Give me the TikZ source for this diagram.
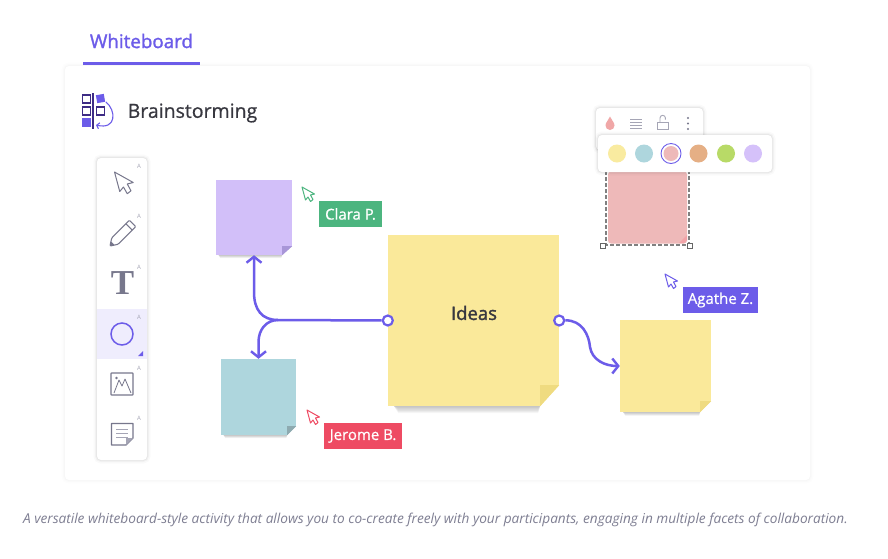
\documentclass[tikz,border=0pt]{standalone}
\usepackage{fontspec}
\setmainfont{Open Sans}
\newfontfamily\serifbold{Liberation Serif}
\newfontfamily\semifont[FakeBold=1.6]{Open Sans}
\newfontfamily\medfont[FakeBold=0.7]{Open Sans}
\usetikzlibrary{positioning,arrows.meta,calc}
\definecolor{violet}{HTML}{6C5CE9}
\definecolor{deepviolet}{HTML}{3E2C85}
\definecolor{icongray}{HTML}{77778C}
\definecolor{hintgray}{HTML}{A5A5B5}
\definecolor{captiongray}{HTML}{7E7E92}
\definecolor{inkgray}{HTML}{37373F}
\definecolor{noteyellow}{HTML}{FAE99A}
\definecolor{notelilac}{HTML}{D2BFF9}
\definecolor{noteblue}{HTML}{AED6DD}
\definecolor{notepink}{HTML}{EEB9B9}
\definecolor{foldyellow}{HTML}{EFDB80}
\definecolor{foldlilac}{HTML}{A896D8}
\definecolor{foldblue}{HTML}{8EAAB0}
\definecolor{foldpink}{HTML}{F2A3A8}
\definecolor{swyellow}{HTML}{F9EBA0}
\definecolor{sworange}{HTML}{E5AF85}
\definecolor{swgreen}{HTML}{B8DA67}
\definecolor{swlilac}{HTML}{D5C1FA}
\definecolor{tagred}{HTML}{EE4B63}
\definecolor{taggreen}{HTML}{4CB57F}
\newcommand{\fold}[4]{%
  \fill[white] ($(#1.south east)+(0,-#2)$) -- (#1.south east) -- ($(#1.south east)+(-#3,0)$) -- cycle;
  \fill[#4] ($(#1.south east)+(0,-#2)$) -- ($(#1.south east)+(-#3,-#2)$) -- ($(#1.south east)+(-#3,0)$) -- cycle;
  \foreach \d in {.17,.33,.5,.67,.83,1} {
    \fill[black,opacity=.04] ($(#1.south west)+(#2*.3,0)$) -- ($(#1.south west)+(#2*.3+#2*.2,#2*.33*\d)$)
      -- ($(#1.south east)+(-#3-#2*.1,#2*.33*\d)$) -- ($(#1.south east)+(-#3,0)$) -- cycle;
  }
}
\tikzset{
  sticky/.style args={#1,#2,#3}{
    fill=#1,
    minimum width=#2,
    minimum height=#3,
    inner sep=0pt
  },
  panel/.style={
    fill=white,
    rounded corners=4pt,
    preaction={draw=black,opacity=.02,line width=7pt},
    preaction={draw=black,opacity=.03,line width=4pt},
    preaction={draw=black,opacity=.04,line width=2pt}
  },
  cardpanel/.style={
    fill=white,
    rounded corners=4pt,
    preaction={draw=black,opacity=.008,line width=7pt},
    preaction={draw=black,opacity=.01,line width=4pt},
    preaction={draw=black,opacity=.012,line width=2pt}
  },
  tag/.style args={#1,#2}{
    fill=#1,
    text=white,
    font=\fontsize{15}{18}\medfont,
    minimum width=#2,
    minimum height=26pt,
    inner sep=0pt
  },
  port/.style={circle,draw=violet,fill=white,line width=2.2pt,minimum size=10pt,inner sep=0pt},
  link/.style={draw=violet,line width=2.5pt,-{Straight Barb[length=6pt,width=15pt,line width=2.4pt]}},
  hint/.style={text=hintgray,font=\fontsize{6}{7}\selectfont,inner sep=0pt},
  swatch/.style={circle,fill=#1,minimum size=18pt,inner sep=0pt},
  tool/.style={draw=icongray,line width=1.1pt,line join=round},
  pointer/.pic={
    \draw[draw=#1,fill=white,line width=1pt,line join=round]
      (0,0) -- (3.5,13) -- (6,10) -- (8.5,14.5) -- (11,12.5) -- (8.5,8) -- (12.5,7) -- cycle;
  }
}
\begin{document}
\begin{tikzpicture}[x=1pt,y=-1pt]
  \useasboundingbox (0,0) rectangle (888,558);
  \fill[white] (0,0) rectangle (888,558);

  % card and heading
  \node [cardpanel,minimum width=745pt,minimum height=414pt,inner sep=0pt] (card) at (437.5,273) {};
  \node [text=violet,inner sep=0pt,font=\fontsize{18.8}{22}\semifont] (tab) at (141.5,41) {Whiteboard};
  \draw[violet,line width=3pt] (83,63.5) -- (200,63.5);
  \node [text=inkgray,inner sep=0pt,font=\fontsize{19.5}{24}\medfont,anchor=west] (title) at (127.5,113) {Brainstorming};

  % logo
  \foreach \y in {95,107} {
    \draw[deepviolet,line width=1.2pt] (82.5,\y) rectangle ++(8,8);
  }
  \fill[violet] (82,118) rectangle ++(9,9);
  \draw[deepviolet,line width=1.2pt] (93,93) -- (93,129);
  \fill[violet,rotate around={10:(100.5,98.5)}] (96.5,94.5) rectangle ++(8,8);
  \draw[deepviolet,line width=1.2pt] (96.5,107) rectangle ++(8,8);
  \draw[violet,line width=1.1pt,-{Straight Barb[length=2.5pt,width=6pt]}] (106,102) .. controls (116,110) and (117,130) .. (96,125);

  % tool bar
  \node [panel,minimum width=50pt,minimum height=302pt,inner sep=0pt] (bar) at (122,309) {};
  \fill[violet!11] (bar.west |- 0,309) rectangle (bar.east |- 0,359);
  \foreach \y [count=\i] in {166,216,267,317,368,418} {
    \node [hint] (hint\i) at (139,\y) {A};
  }
  \pic [scale=1.5] at (114.5,172) {pointer=icongray};
  % pencil
  \begin{scope}[shift={(122,234)},rotate=45]
    \draw[tool,rounded corners=1pt] (-10,-4.5) -- (15,-4.5) -- (15,4.5) -- (-10,4.5) -- (-17,0) -- cycle;
    \draw[tool] (10,-4.5) -- (10,4.5);
    \fill[icongray] (-17,0) -- (-13,-2) -- (-13,2) -- cycle;
  \end{scope}
  \node [text=icongray,inner sep=0pt,font=\fontsize{35}{35}\serifbold\bfseries] (ttool) at (122.5,283) {T};
  \node [circle,draw=violet,line width=1.5pt,minimum size=22pt,inner sep=0pt] (ring) at (122,334) {};
  \fill[violet] (143,351) -- (143,356) -- (138,356) -- cycle;
  % picture tool
  \draw[tool,rounded corners=.5pt] (111,373) rectangle (133,395);
  \draw[tool,line width=.8pt] (114,393) -- (119,380) -- (122,386) -- (125,379) -- (131,393);
  \fill[icongray] (116.5,378) circle (1.3);
  % note tool
  \draw[tool,line width=1.2pt] (111.5,423.5) -- (133,423.5) -- (133,438) -- (126,445) -- (111.5,445) -- cycle;
  \fill[hintgray] (133,438) -- (126,438) -- (126,445) -- cycle;
  \foreach \y in {429,433,437} {
    \draw[hintgray,line width=1pt] (116,\y) -- (128,\y);
  }

  % notes
  \node [sticky={noteyellow,171pt,171pt}] (ideas) at (473.5,320.5) {};
  \node [inner sep=0pt,text=inkgray,font=\fontsize{18.5}{22}\semifont] (ideastxt) at (474,313) {Ideas};
  \node [sticky={notelilac,76pt,75pt}] (lilac) at (254,217.5) {};
  \node [sticky={noteblue,75pt,76pt}] (blue) at (258.5,397) {};
  \node [sticky={noteyellow,91pt,92pt}] (small) at (665.5,366) {};
  \fold{ideas}{21}{19}{foldyellow}
  \fold{lilac}{9}{10}{foldlilac}
  \fold{blue}{9}{9}{foldblue}
  \fold{small}{11}{11}{foldyellow}

  % selected note
  \node [sticky={notepink,79pt,72pt},rounded corners=3pt] (pink) at (647.5,207.5) {};
  \fill[foldpink] (687,235) -- (687,240) -- (684,243) -- (679,243) -- cycle;
  \draw[black!50,line width=1.1pt,dash pattern=on 4pt off 2pt] (606,165) -- (606,245) -- (689,245) -- (689,165);
  \foreach \x/\n in {603/hl,690/hr} {
    \node [draw=black!60,fill=white,line width=.7pt,minimum size=5pt,inner sep=0pt] (\n) at (\x,245.5) {};
  }

  % menus
  \node [panel,minimum width=107pt,minimum height=42pt,inner sep=0pt] (menu) at (649.5,129) {};
  \fill[notepink!90!red] (610,116.5) .. controls (611,120) and (614.5,122) .. (614.5,125.5) arc (0:180:4.5) .. controls (605.5,122) and (609,120) .. (610,116.5);
  \foreach \y in {119,122,125,128} {
    \draw[hintgray,line width=.8pt] (630,\y) -- (642,\y);
  }
  \draw[hintgray,line width=.9pt] (657.5,122) rectangle (668,129);
  \draw[hintgray,line width=.9pt] (660,122) -- (660,118) arc (180:360:2.7) -- (665.4,119.5);
  \foreach \y in {118,123.5,129} {
    \fill[icongray] (688,\y) circle (1.2);
  }
  \node [panel,minimum width=174pt,minimum height=37pt,inner sep=0pt] (colors) at (685,153.5) {};
  \foreach \x/\c [count=\i] in {617/swyellow,644/noteblue,671/notepink,698.5/sworange,726/swgreen,753/swlilac} {
    \node [swatch=\c] (sw\i) at (\x,153.5) {};
  }
  \node [circle,draw=violet,fill=white,line width=.9pt,minimum size=20pt,inner sep=0pt] (swring) at (sw3) {};
  \node [swatch=notepink,minimum size=15pt] (swdot) at (sw3) {};

  % people
  \pic at (302,187) {pointer=taggreen};
  \pic at (307,410) {pointer=tagred};
  \pic at (665,274) {pointer=violet};
  \node [tag={taggreen,63pt}] (clara) at (350.5,214) {Clara P.};
  \node [tag={tagred,78pt}] (jerome) at (363,436) {Jerome B.};
  \node [tag={violet,75pt}] (agathe) at (720.5,300) {Agathe Z.};

  % links
  \coordinate (split) at (278,320);
  \node [port] (portl) at (ideas.west) {};
  \node [port] (portr) at (ideas.east) {};
  \draw[link] (split) .. controls (266,320) and (258.5,330) .. (258.5,342) -- (blue.north);
  \draw[link] (portl) -- (split) .. controls (262,320) and (254,310) .. (254,292) -- (lilac.south);
  \draw[link] (portr) .. controls (582,320) and (589,335) .. (590,347) .. controls (592,360) and (605,366) .. (small.west);

  \node [text=captiongray,inner sep=0pt,font=\fontsize{13.65}{16}\selectfont\itshape] (caption) at (435.5,520) {A versatile whiteboard-style activity that allows you to co-create freely with your participants, engaging in multiple facets of collaboration.};
\end{tikzpicture}
\end{document}
